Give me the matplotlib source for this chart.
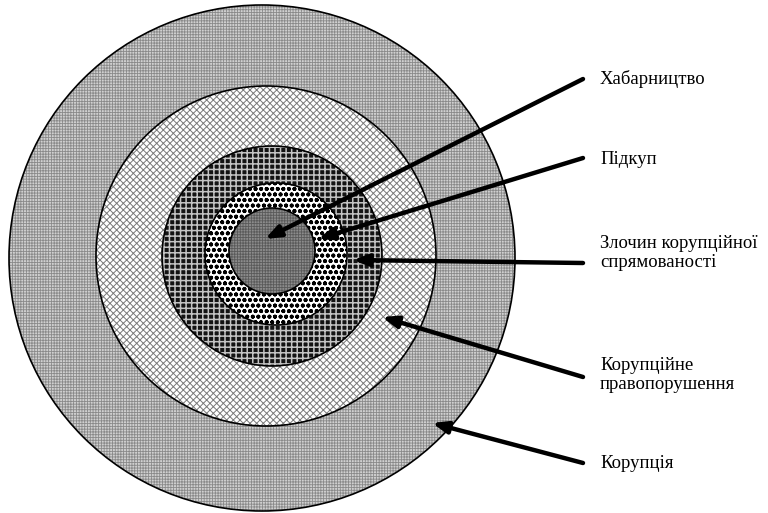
import matplotlib
matplotlib.use("Agg")
import matplotlib.pyplot as plt
from matplotlib.patches import Circle

plt.rcParams['font.family'] = ['Liberation Serif', 'DejaVu Serif']

# Rings, outermost first (pixel units of the reference)
ring_names = ["Корупція", "Корупційне правопорушення", "Злочин корупційної спрямованості", "Підкуп", "Хабарництво"]
ring_radius = [253, 170, 110, 71, 43]
ring_cx = [262, 266, 272, 276, 272]
ring_cy = [258, 256, 256, 254, 251]

# Labels and arrows
labels = ["Хабарництво", "Підкуп", "Злочин корупційної\nспрямованості",
          "Корупційне\nправопорушення", "Корупція"]
label_x = [600, 600, 600, 600, 600]
label_y = [79, 160, 253, 375, 463]
arrow_start_x = [583, 583, 583, 583, 583]
arrow_start_y = [79, 158, 263, 377, 463]
arrow_tip_x = [265, 318, 353, 382, 432]
arrow_tip_y = [239, 239, 260, 317, 423]

styles = [
    dict(face="#d0d0d0", hatch="++++++", hcol="#8a8a8a", hlw=0.6),
    dict(face="#ffffff", hatch="xxxxx", hcol="#7a7a7a", hlw=0.7),
    dict(face="#141414", hatch="+++", hcol="#c4c4c4", hlw=1.1),
    dict(face="#ffffff", hatch="ooo", hcol="#000000", hlw=1.25),
    dict(face="#8c8c8c", hatch="++++++", hcol="#5a5a5a", hlw=0.6),
]

fig = plt.figure(figsize=(7.68, 5.13), dpi=100)
ax = fig.add_axes([0, 0, 1, 1])
ax.set_xlim(0, 768)
ax.set_ylim(513, 0)
ax.set_aspect('equal')
ax.axis('off')

for i, r in enumerate(ring_radius):
    s = styles[i]
    plt.rcParams['hatch.linewidth'] = s["hlw"]
    p = Circle((ring_cx[i], ring_cy[i]), r, facecolor=s["face"],
               edgecolor=s["hcol"], hatch=s["hatch"], linewidth=0, zorder=1 + i)
    if hasattr(p, "set_hatch_linewidth"):
        p.set_hatch_linewidth(s["hlw"])
    ax.add_patch(p)
    ax.add_patch(Circle((ring_cx[i], ring_cy[i]), r, fill=False,
                        edgecolor="black", linewidth=1.2, zorder=1 + i))

for i in range(len(labels)):
    ax.annotate("", xy=(arrow_tip_x[i], arrow_tip_y[i]),
                xytext=(arrow_start_x[i], arrow_start_y[i]),
                arrowprops=dict(arrowstyle="-|>,head_length=0.9,head_width=0.35",
                                color="black", lw=3.2, shrinkA=0, shrinkB=0),
                zorder=20)
    ax.text(label_x[i], label_y[i], labels[i], fontsize=13.5, ha="left", va="center",
            linespacing=1.2, color="black", zorder=21)

fig.savefig("out.png", dpi=100)
